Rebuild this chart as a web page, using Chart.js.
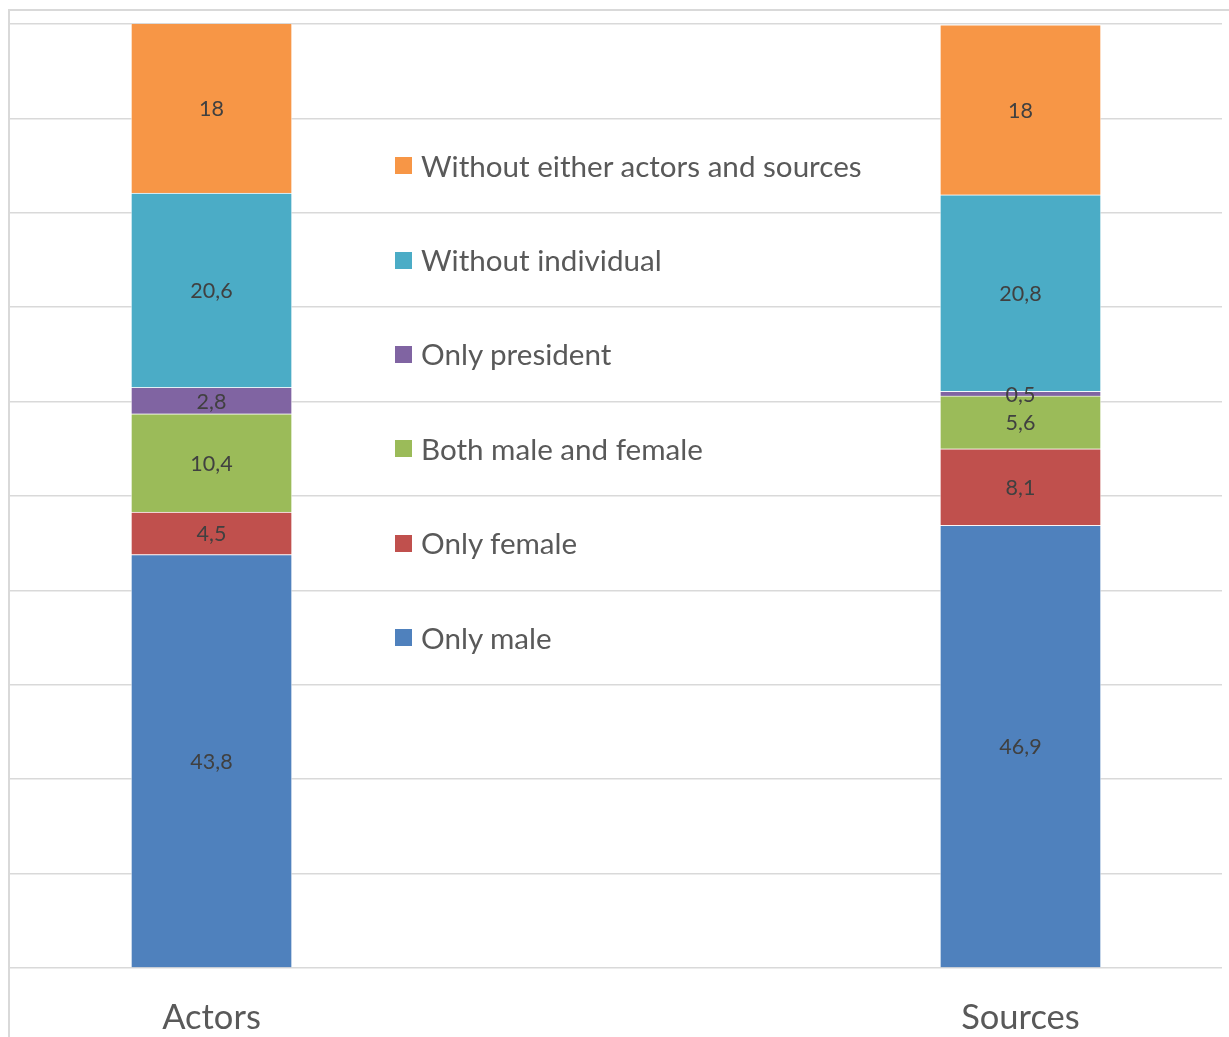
<!DOCTYPE html>
<html>
<head>
<meta charset="utf-8">
<script src="https://cdn.jsdelivr.net/npm/chart.js@4.4.1/dist/chart.umd.min.js"></script>
<style>
  html, body { margin: 0; padding: 0; background: #ffffff; overflow: hidden; }
  #wrap { position: relative; width: 1229px; height: 1037px; }
  #frame { position: absolute; left: 8px; top: 9px; right: -20px; bottom: -20px;
           border-top: 2px solid #d9d9d9; border-left: 2px solid #d9d9d9; }
  #chartBox { position: absolute; left: 0; top: 0; width: 1229px; height: 1037px; }
  #legend { position: absolute; left: 395px; top: 0; font-family: Lato, "Open Sans", sans-serif;
            font-size: 29.6px; color: #595959; }
  .item { position: absolute; left: 0; height: 34px; line-height: 34px; display: flex;
          align-items: center; white-space: nowrap; }
  .sw { width: 17px; height: 17px; margin-right: 9px; flex: none; }
</style>
</head>
<body>
<div id="wrap">
  <div id="frame"></div>
  <div id="chartBox"><canvas id="c"></canvas></div>
  <div id="legend"></div>
</div>
<script>
// ---- data ----
const categories = ["Actors", "Sources"];
const seriesNames = ["Only male", "Only female", "Both male and female", "Only president",
                     "Without individual", "Without either actors and sources"];
const onlyMale = [43.8, 46.9];
const onlyFemale = [4.5, 8.1];
const bothMaleFemale = [10.4, 5.6];
const onlyPresident = [2.8, 0.5];
const withoutIndividual = [20.6, 20.8];
const withoutEither = [18, 18];
const yTicks = [0, 10, 20, 30, 40, 50, 60, 70, 80, 90, 100];

const seriesValues = [onlyMale, onlyFemale, bothMaleFemale, onlyPresident, withoutIndividual, withoutEither];
const seriesColors = ["#4F81BD", "#C0504D", "#9BBB59", "#8064A2", "#4BACC6", "#F79646"];

const datasets = seriesNames.map((name, s) => ({
  label: name,
  data: seriesValues[s].map((v, i) => ({ x: i, y: v })),
  backgroundColor: seriesColors[s],
  borderColor: "rgba(255,255,255,0.55)",
  borderWidth: 1,
  barThickness: 161,
  stack: "total"
}));

const fmt = v => String(v).replace(".", ",");

const labelPlugin = {
  id: "barLabels",
  afterDatasetsDraw(chart) {
    const ctx = chart.ctx;
    ctx.save();
    ctx.font = "21.5px Lato, 'Open Sans', sans-serif";
    ctx.fillStyle = "#404040";
    ctx.textAlign = "center";
    ctx.textBaseline = "middle";
    chart.data.datasets.forEach((ds, di) => {
      const meta = chart.getDatasetMeta(di);
      meta.data.forEach((el, i) => {
        const v = ds.data[i].y;
        ctx.fillText(fmt(v), el.x, (el.y + el.base) / 2 + 1);
      });
    });
    ctx.restore();
  }
};

const chart = new Chart(document.getElementById("c"), {
  type: "bar",
  data: { datasets },
  plugins: [labelPlugin],
  options: {
    responsive: true,
    maintainAspectRatio: false,
    animation: false,
    layout: { padding: { left: 10, right: 7, top: 24, bottom: 0 } },
    plugins: { legend: { display: false }, tooltip: { enabled: false } },
    scales: {
      x: {
        type: "linear",
        stacked: true,
        offset: false,
        min: -0.2491,
        max: 1.2491,
        grid: { display: false, drawTicks: false, offset: false },
        border: { display: false },
        afterBuildTicks: scale => { scale.ticks = categories.map((_, i) => ({ value: i })); },
        afterFit: scale => { scale.height = 69; },
        ticks: {
          autoSkip: false,
          maxRotation: 0,
          padding: 29,
          color: "#595959",
          font: { family: "Lato, 'Open Sans', sans-serif", size: 34.5 },
          callback: v => categories[v]
        }
      },
      y: {
        stacked: true,
        min: 0,
        max: 100,
        afterBuildTicks: scale => { scale.ticks = yTicks.map(v => ({ value: v })); },
        afterFit: scale => { scale.width = 0; },
        grid: { color: "#d9d9d9", lineWidth: 1.5, drawTicks: false },
        border: { display: false },
        ticks: { display: false }
      }
    }
  }
});

// ---- legend (reverse order, rows centered between gridlines) ----
const legendRows = [85, 75, 65, 55, 45, 35];
const legendEl = document.getElementById("legend");
const yScale = chart.scales.y;
seriesNames.slice().reverse().forEach((name, r) => {
  const s = seriesNames.length - 1 - r;
  const item = document.createElement("div");
  item.className = "item";
  item.style.top = (yScale.getPixelForValue(legendRows[r]) - 17) + "px";
  const sw = document.createElement("span");
  sw.className = "sw";
  sw.style.background = seriesColors[s];
  const tx = document.createElement("span");
  tx.textContent = name;
  item.appendChild(sw);
  item.appendChild(tx);
  legendEl.appendChild(item);
});
</script>
</body>
</html>
